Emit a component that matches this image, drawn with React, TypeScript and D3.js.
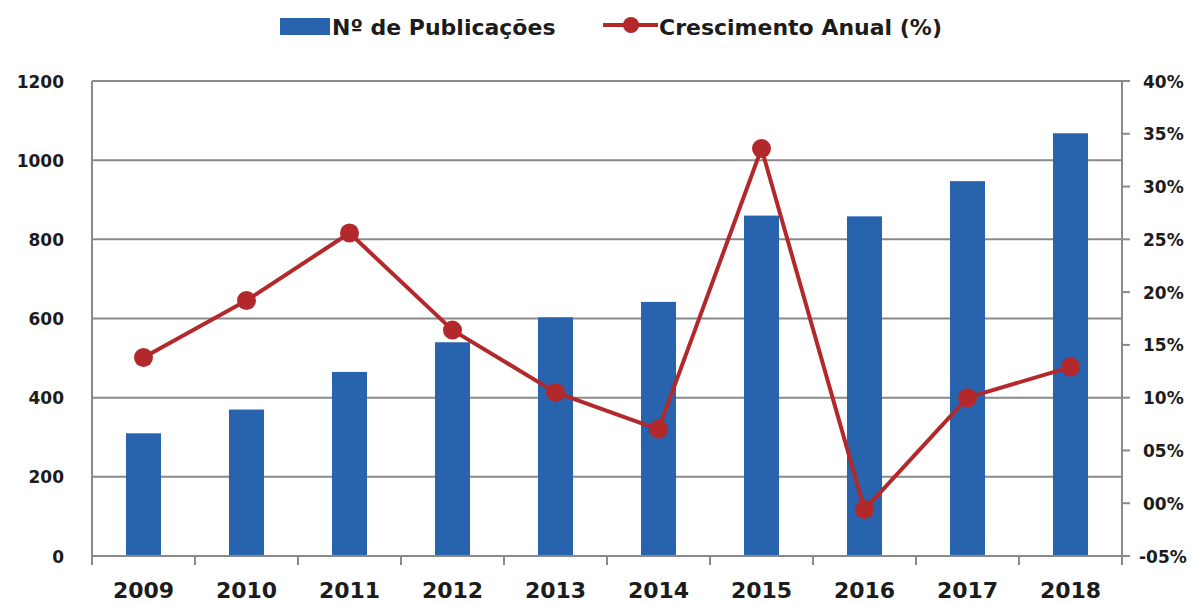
import React from "react";
import * as d3 from "d3";

const years = ["2009", "2010", "2011", "2012", "2013", "2014", "2015", "2016", "2017", "2018"];
const publications = [310, 370, 465, 540, 603, 642, 860, 858, 947, 1068];
const growth = [13.8, 19.2, 25.6, 16.4, 10.5, 7.0, 33.6, -0.6, 10.0, 12.9];
const leftTicks = [0, 200, 400, 600, 800, 1000, 1200];
const rightTicks = [-5, 0, 5, 10, 15, 20, 25, 30, 35, 40];
const seriesNames = ["Nº de Publicações", "Crescimento Anual (%)"];

const W = 1203;
const H = 604;
const L = 92;
const R = 1122;
const T = 81;
const B = 556;

const BAR = "#2864AE";
const LINE = "#B3282A";
const GRID = "#8A8A8A";
const TXT = "#1c1c1c";
const FONT = "'DejaVu Sans', Verdana, sans-serif";

function fmtPct(v: number): string {
  const a = Math.abs(v);
  const s = (a < 10 ? "0" : "") + a + "%";
  return v < 0 ? "-" + s : s;
}

export default function App() {
  const x = d3.scaleBand<string>().domain(years).range([L, R]).padding(0);
  const yL = d3.scaleLinear().domain([0, 1200]).range([B, T]);
  const yR = d3.scaleLinear().domain([-5, 40]).range([B, T]);
  const bw = x.bandwidth() * 0.34;
  const cx = (d: string) => (x(d) as number) + x.bandwidth() / 2;

  const linePath = d3
    .line<number>()
    .x((_, i) => cx(years[i]))
    .y((v) => yR(v))(growth) as string;

  const boundaries = years.map((d) => x(d) as number).concat([R]);

  return (
    <svg
      width={W}
      height={H}
      style={{ position: "absolute", left: 0, top: 0, background: "#fff" }}
      fontFamily={FONT}
    >
      <rect x={0} y={0} width={W} height={H} fill="#fff" />
      {/* gridlines */}
      {leftTicks.map((t) => (
        <line key={"g" + t} x1={L} x2={R} y1={yL(t)} y2={yL(t)} stroke={GRID} strokeWidth={2} />
      ))}
      {/* bars */}
      {years.map((d, i) => (
        <rect
          key={"b" + d}
          x={cx(d) - bw / 2}
          y={yL(publications[i])}
          width={bw}
          height={B - yL(publications[i])}
          fill={BAR}
        />
      ))}
      {/* axes */}
      <line x1={L} x2={L} y1={T} y2={B} stroke={GRID} strokeWidth={2} />
      <line x1={R} x2={R} y1={T} y2={B} stroke={GRID} strokeWidth={2} />
      <line x1={L} x2={R} y1={B} y2={B} stroke={GRID} strokeWidth={2} />
      {boundaries.map((bx, i) => (
        <line key={"xt" + i} x1={bx} x2={bx} y1={B} y2={B + 9} stroke={GRID} strokeWidth={2} />
      ))}
      {rightTicks.map((t) => (
        <line key={"rt" + t} x1={R} x2={R + 8} y1={yR(t)} y2={yR(t)} stroke={GRID} strokeWidth={2} />
      ))}
      {/* left labels */}
      {leftTicks.map((t) => (
        <text
          key={"ll" + t}
          x={64}
          y={yL(t) + 6.5}
          textAnchor="end"
          fontSize={17}
          fontWeight="bold"
          fill={TXT}
        >
          {t}
        </text>
      ))}
      {/* right labels */}
      {rightTicks.map((t) => (
        <text
          key={"rl" + t}
          x={t < 0 ? 1139 : 1143}
          y={yR(t) + 6.5}
          textAnchor="start"
          fontSize={17}
          fontWeight="bold"
          fill={TXT}
        >
          {fmtPct(t)}
        </text>
      ))}
      {/* x labels */}
      {years.map((d) => (
        <text
          key={"xl" + d}
          x={cx(d)}
          y={598}
          textAnchor="middle"
          fontSize={22}
          fontWeight="bold"
          fill={TXT}
        >
          {d}
        </text>
      ))}
      {/* line series */}
      <path d={linePath} fill="none" stroke={LINE} strokeWidth={4} strokeLinejoin="round" />
      {growth.map((v, i) => (
        <circle key={"m" + i} cx={cx(years[i])} cy={yR(v)} r={9.5} fill={LINE} />
      ))}
      {/* legend */}
      <rect x={280} y={18} width={50} height={17} fill={BAR} />
      <text x={332} y={35} fontSize={22} fontWeight="bold" fill={TXT}>
        {seriesNames[0]}
      </text>
      <line x1={603} x2={658} y1={25} y2={25} stroke={LINE} strokeWidth={4} />
      <circle cx={631} cy={25} r={8} fill={LINE} />
      <text x={659} y={35} fontSize={22} fontWeight="bold" fill={TXT}>
        {seriesNames[1]}
      </text>
    </svg>
  );
}
